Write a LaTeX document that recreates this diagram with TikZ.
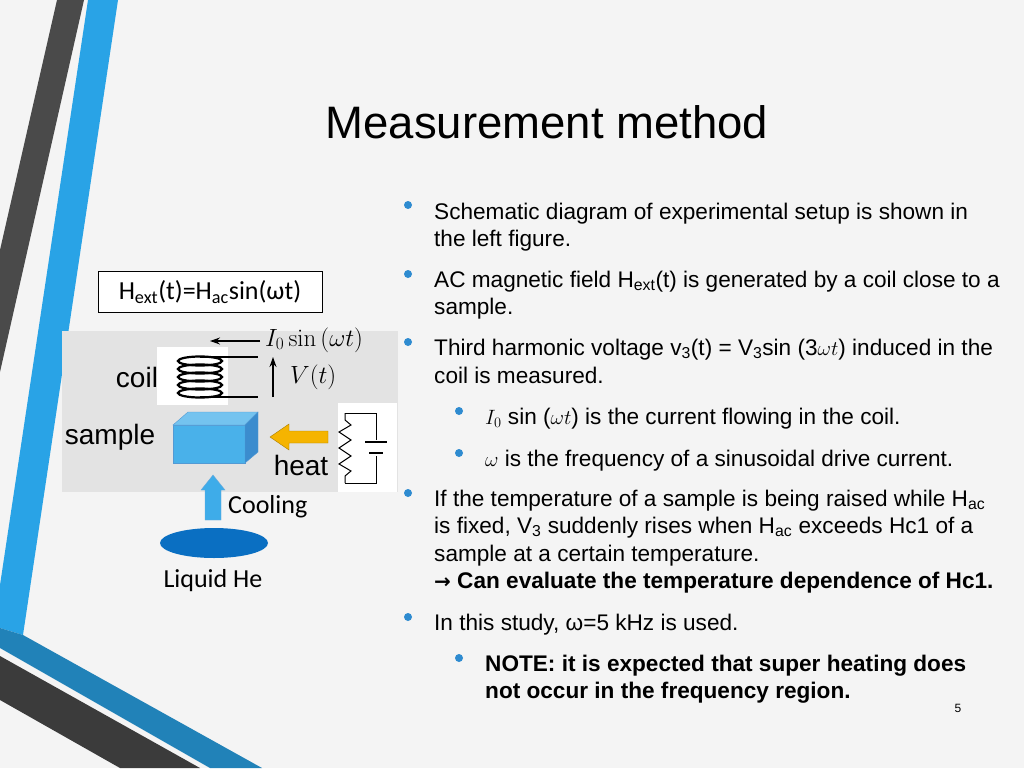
\documentclass[tikz,border=0pt]{standalone}
\usepackage[no-math]{fontspec}
\setmainfont{Liberation Sans}
\newfontfamily\calib{Carlito}
\newfontfamily\arrowfont{DejaVu Sans}
\usetikzlibrary{shapes.geometric,shapes.arrows,arrows.meta,positioning}
\definecolor{stripeblue}{HTML}{29A3E6}
\definecolor{stripedark}{HTML}{4A4A4A}
\definecolor{bulletblue}{HTML}{2E8BD0}
\definecolor{heblue}{HTML}{0A6FC2}
\definecolor{heatyellow}{HTML}{F5B400}
\tikzset{
  line/.style={anchor=base west,inner sep=0pt,font=\fontsize{22.6}{24}\selectfont},
  bul/.style={circle,fill=bulletblue,inner sep=0pt,minimum size=8pt},
  lbl/.style={font=\fontsize{28}{30}\selectfont,inner sep=0pt}
}
\begin{document}
\begin{tikzpicture}[x=1pt,y=-1pt]
  \useasboundingbox (0,0) rectangle (1024,768);
  % background
  \fill[gray!9] (0,0) rectangle (1024,768);
  % stripes
  \fill[stripedark] (57,0) -- (84,0) -- (0,372) -- (0,250) -- cycle;
  \fill[stripeblue] (88,0) -- (118,0) -- (23,635) -- (0,628) -- (0,585) -- cycle;
  \fill[stripeblue!80!black] (0,628) -- (23,635) -- (262,768) -- (210,768) -- (0,648) -- cycle;
  \fill[stripedark!80!black] (0,656) -- (200,768) -- (120,768) -- (0,700) -- cycle;

  % title
  \node[font=\fontsize{45.5}{50}\selectfont] (title) at (547,122) {Measurement method};

  % bullets and text
  \foreach \y/\lev in {211/1,280/1,348/1,417/2,459/2,499/1,623/1,664/2}{
    \ifnum\lev=1 \node[bul] at (408,\y-6) {}; \else \node[bul] at (459,\y-6) {}; \fi
  }
  \node[line] (t1) at (434,219) {Schematic diagram of experimental setup is shown in};
  \node[line] (t2) at (434,246) {the left figure.};
  \node[line] (t3) at (434,287) {AC magnetic field H\textsubscript{ext}(t) is generated by a coil close to a};
  \node[line] (t4) at (434,314) {sample.};
  \node[line] (t5) at (434,355) {Third harmonic voltage v\textsubscript{3}(t) = V\textsubscript{3}sin (3$\omega t$) induced in the};
  \node[line] (t6) at (434,383) {coil is measured.};
  \node[line] (t7) at (485,424) {$I_0$ sin ($\omega t$) is the current flowing in the coil.};
  \node[line] (t8) at (485,466) {$\omega$ is the frequency of a sinusoidal drive current.};
  \node[line] (t9) at (434,506) {If the temperature of a sample is being raised while H\textsubscript{ac}};
  \node[line] (t10) at (434,533) {is fixed, V\textsubscript{3} suddenly rises when H\textsubscript{ac} exceeds Hc1 of a};
  \node[line] (t11) at (434,561) {sample at a certain temperature.};
  \node[line] (t12) at (434,588) {\textbf{{\arrowfont\fontsize{20}{24}\selectfont →} Can evaluate the temperature dependence of Hc1.}};
  \node[line] (t13) at (434,630) {In this study, ω=5 kHz is used.};
  \node[line] (t14) at (485,671) {\textbf{NOTE: it is expected that super heating does}};
  \node[line] (t15) at (485,698) {\textbf{not occur in the frequency region.}};
  \node[font=\fontsize{12}{14}\selectfont] (page) at (958,708) {5};

  % left figure
  \node[draw,thick,fill=white,minimum width=224pt,minimum height=41pt,
        font=\calib\fontsize{26}{30}\selectfont] (hext) at (210,292)
        {H\textsubscript{ext}(t)=H\textsubscript{ac}sin(ωt)};
  \fill[gray!22] (62,331) rectangle (398,492);
  \fill[white] (157,347) rectangle (228,405);
  \fill[white] (338,403) rectangle (397,492);
  % coil
  \foreach \yy in {361,369,377,385,393}
    \draw[line width=2.2pt] (200,\yy) ellipse [x radius=22pt,y radius=4.5pt];
  \coordinate (ctop) at (200,357);
  \coordinate (cbot) at (200,397);
  \draw[line width=1.4pt] (ctop) -- (258,357);
  \draw[line width=1.4pt] (cbot) -- (258,397);
  \draw[-{Stealth[length=10pt,width=7pt]},line width=1.2pt] (273,397) -- (273,357);
  \draw[-{Stealth[length=10pt,width=7pt]},line width=1.2pt] (260,341) -- (210,341);
  \node[anchor=west,font=\fontsize{27}{30}\selectfont,inner sep=0pt] (icur) at (265,340) {$I_0\sin\left(\omega t\right)$};
  \node[anchor=west,font=\fontsize{27}{30}\selectfont,inner sep=0pt] (volt) at (290,377) {$V(t)$};
  \node[lbl] (coil) at (137,377) {coil};
  \node[lbl] (samp) at (110,437) {sample};
  \node[lbl] (heat) at (301,465) {heat};
  % sample box
  \filldraw[fill=stripeblue!85,draw=heblue!70] (173,425) rectangle (245,463);
  \filldraw[fill=stripeblue!65,draw=heblue!70] (173,425) -- (188,412) -- (258,412) -- (245,425) -- cycle;
  \filldraw[fill=heblue!80,draw=heblue!70] (245,425) -- (258,412) -- (258,452) -- (245,463) -- cycle;
  % heat arrow
  \fill[heatyellow,draw=heatyellow!70!black] (328,431) -- (289,431) -- (289,424) -- (270,437)
    -- (289,450) -- (289,443) -- (328,443) -- cycle;
  % heater circuit
  \draw[line width=1pt] (345,413) -- (376,413) -- (376,440);
  \draw[line width=1pt] (376,456) -- (376,483) -- (345,483);
  \draw[line width=1.4pt] (365,442) -- (387,442);
  \draw[line width=1.4pt] (369,453) -- (383,453);
  \draw[line width=1pt] (345,413) -- (345,420) -- (351,425) -- (339,432) -- (351,440) -- (339,448)
    -- (351,456) -- (339,464) -- (351,471) -- (345,476) -- (345,483);
  % cooling
  \fill[stripeblue!90,draw=heblue!60] (205,520) -- (205,490) -- (201,490) -- (213,475) -- (225,490)
    -- (221,490) -- (221,520) -- cycle;
  \node[anchor=west,font=\calib\fontsize{26}{28}\selectfont,inner sep=0pt] (cool) at (228,507) {Cooling};
  \fill[heblue] (214,543) ellipse [x radius=54pt,y radius=15pt];
  \node[font=\calib\fontsize{26}{28}\selectfont,inner sep=0pt] (he) at (213,581) {Liquid He};
\end{tikzpicture}
\end{document}
